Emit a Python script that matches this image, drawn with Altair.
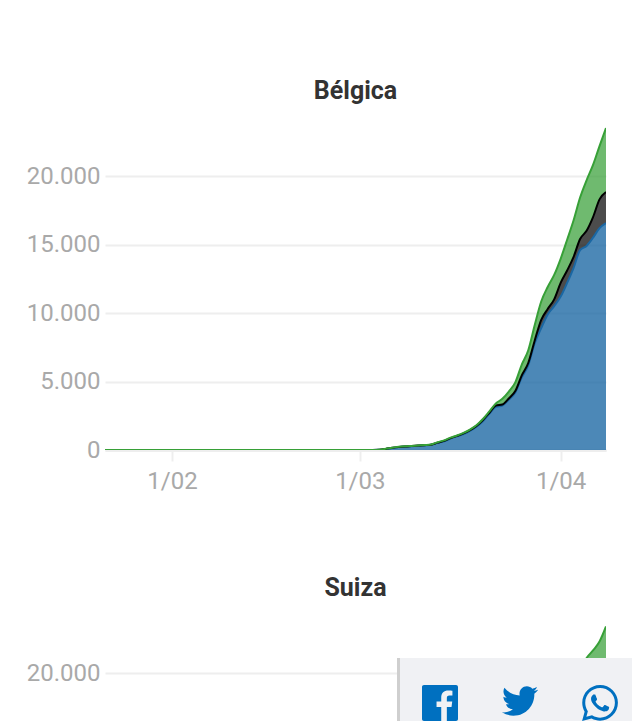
import altair as alt
import pandas as pd

early_dates = pd.date_range("2020-01-21", "2020-02-29", freq="D").strftime("%Y-%m-%d").tolist()
dates = pd.date_range("2020-03-01", "2020-04-08", freq="D").strftime("%Y-%m-%d").tolist()

green = [2, 3, 6, 25, 90, 170, 230, 270, 300, 330, 360, 400, 570, 700, 900, 1060, 1250, 1490, 1800, 2260,
         2820, 3400, 3740, 4270, 4940, 6240, 7280, 9130, 10840, 11900, 12780, 13960, 15350, 16770, 18430, 19690,
         20810, 22190, 23500]
black = [2, 3, 6, 20, 80, 160, 220, 260, 290, 320, 350, 390, 540, 670, 870, 1030, 1210, 1450, 1760, 2190,
         2720, 3250, 3320, 3760, 4300, 5450, 6350, 8000, 9500, 10300, 11000, 12200, 13100, 14100, 15400, 16000,
         17000, 18300, 18830]
blue = [2, 3, 5, 15, 70, 150, 210, 250, 280, 310, 340, 380, 520, 640, 840, 1000, 1170, 1400, 1700, 2100,
        2650, 3150, 3250, 3680, 4200, 5300, 6200, 7800, 8900, 9900, 10500, 11200, 12200, 13300, 14600, 14900,
        15500, 16200, 16570]

suiza_dates = ["2020-04-03", "2020-04-04", "2020-04-05", "2020-04-06", "2020-04-07", "2020-04-08"]
suiza_green = [19000, 20200, 21100, 21650, 22300, 23400]

df = pd.DataFrame({
    "date": early_dates + dates,
    "zero": [0] * (len(early_dates) + len(dates)),
    "blue": [0] * len(early_dates) + blue,
    "black": [0] * len(early_dates) + black,
    "green": [0] * len(early_dates) + green,
})
df_s = pd.DataFrame({"date": suiza_dates, "green": suiza_green})

X_DOMAIN = ["2020-01-21T16:00:00Z", "2020-04-08T00:00:00Z"]
GRID = "#eeeeee"
LABEL = "#a9a9a9"
FONT = "Roboto"
GREEN = "#37a037"
BLUE = "#1a67a3"
xscale = alt.Scale(type="utc", domain=X_DOMAIN)
label_expr = "replace(format(datum.value, ','), ',', '.')"


def xaxis():
    return alt.Axis(format="%-d/%m", tickCount={"interval": "month", "step": 1}, grid=False, title=None,
                    labelFont=FONT, labelFontSize=24, labelColor=LABEL, labelPadding=8, tickColor=GRID,
                    tickSize=11, tickWidth=2, domainColor=GRID, domainWidth=3, labelFlush=False)


def yaxis(values):
    return alt.Axis(values=values, labelExpr=label_expr, grid=True, gridColor=GRID, gridWidth=2, ticks=False,
                    domain=False, title=None, labelFont=FONT, labelFontSize=24, labelColor=LABEL,
                    labelPadding=5, minExtent=90, maxExtent=90)


def band(low, high, color, opacity):
    return alt.Chart(df).mark_area(color=color, opacity=opacity, interpolate="monotone", clip=True).encode(
        x=alt.X("date:T", scale=xscale, axis=xaxis()),
        y=alt.Y(f"{high}:Q", scale=alt.Scale(domain=[0, 23800]), axis=yaxis([0, 5000, 10000, 15000, 20000])),
        y2=alt.Y2(f"{low}:Q"),
    )


def line(field, color):
    return alt.Chart(df).mark_line(color=color, strokeWidth=2, interpolate="monotone", clip=True).encode(
        x=alt.X("date:T", scale=xscale),
        y=alt.Y(f"{field}:Q", scale=alt.Scale(domain=[0, 23800])),
    )


title_style = dict(font=FONT, fontSize=25, fontWeight="bold", color="#333333", anchor="middle", offset=20)

belgica = alt.layer(
    band("zero", "blue", BLUE, 0.78),
    band("blue", "black", "#000000", 0.7),
    band("black", "green", GREEN, 0.72),
    line("blue", BLUE),
    line("black", "#000000"),
    line("green", GREEN),
).properties(width=501, height=326, title=alt.Title("Bélgica", **title_style))

one = pd.DataFrame({"k": [0]})
PANEL_TOP = 37
FB = "M22.68 0H1.32C.59 0 0 .59 0 1.32v21.36C0 23.41.59 24 1.32 24h11.5v-9.3H9.69v-3.63h3.13V8.41c0-3.1 1.89-4.79 4.66-4.79 1.33 0 2.47.1 2.8.14v3.24h-1.92c-1.5 0-1.8.72-1.8 1.77v2.31h3.59l-.47 3.63h-3.12V24h6.12c.73 0 1.32-.59 1.32-1.32V1.32C24 .59 23.41 0 22.68 0z"
TW = "M23.954 4.569c-.885.389-1.83.654-2.825.775 1.014-.611 1.794-1.574 2.163-2.723-.951.555-2.005.959-3.127 1.184-.896-.959-2.173-1.559-3.591-1.559-2.717 0-4.92 2.203-4.92 4.917 0 .39.045.765.127 1.124C7.691 8.094 4.066 6.13 1.64 3.161c-.427.722-.666 1.561-.666 2.475 0 1.71.87 3.213 2.188 4.096-.807-.026-1.566-.248-2.228-.616v.061c0 2.385 1.693 4.374 3.946 4.827-.413.111-.849.171-1.296.171-.314 0-.615-.03-.916-.086.631 1.953 2.445 3.377 4.604 3.417-1.68 1.319-3.809 2.105-6.102 2.105-.39 0-.779-.023-1.17-.067 2.189 1.394 4.768 2.209 7.557 2.209 9.054 0 13.999-7.496 13.999-13.986 0-.209 0-.42-.015-.63.961-.689 1.8-1.56 2.46-2.548l-.047-.02z"
WA = "M17.472 14.382c-.297-.149-1.758-.867-2.03-.967-.273-.099-.471-.148-.67.15-.197.297-.767.966-.94 1.164-.173.199-.347.223-.644.075-.297-.15-1.255-.463-2.39-1.475-.883-.788-1.48-1.761-1.653-2.059-.173-.297-.018-.458.13-.606.134-.133.298-.347.446-.52.149-.174.198-.298.298-.497.099-.198.05-.371-.025-.52-.075-.149-.669-1.612-.916-2.207-.242-.579-.487-.5-.669-.51-.173-.008-.371-.01-.57-.01-.198 0-.52.074-.792.372-.272.297-1.04 1.016-1.04 2.479 0 1.462 1.065 2.875 1.213 3.074.149.198 2.096 3.2 5.077 4.487.709.306 1.262.489 1.694.625.712.227 1.36.195 1.871.118.571-.085 1.758-.719 2.006-1.413.248-.694.248-1.289.173-1.413-.074-.124-.272-.198-.57-.347m-5.421 7.403h-.004a9.87 9.87 0 01-5.031-1.378l-.361-.214-3.741.982.998-3.648-.235-.374a9.86 9.86 0 01-1.51-5.26c.001-5.45 4.436-9.884 9.888-9.884 2.64 0 5.122 1.03 6.988 2.898a9.825 9.825 0 012.893 6.994c-.003 5.45-4.437 9.884-9.885 9.884m8.413-18.297A11.815 11.815 0 0012.05 0C5.495 0 .16 5.335.157 11.892c0 2.096.547 4.142 1.588 5.945L.057 24l6.305-1.654a11.882 11.882 0 005.683 1.448h.005c6.554 0 11.89-5.335 11.893-11.893a11.821 11.821 0 00-3.48-8.413z"


def panel_rect(x0, x1, color):
    return alt.Chart(one).mark_rect(color=color).encode(
        x=alt.value(x0), x2=alt.value(x1), y=alt.value(PANEL_TOP), y2=alt.value(100))


def icon(path, x, y):
    return alt.Chart(one).mark_point(shape=path, size=9, filled=True, opacity=1, color="#0070c0").encode(
        x=alt.value(x), y=alt.value(y))


sy = alt.Scale(domain=[16500, 23800])
suiza_area = alt.Chart(df_s).mark_area(color=GREEN, opacity=0.72, interpolate="monotone", clip=True).encode(
    x=alt.X("date:T", scale=xscale, axis=None),
    y=alt.Y("green:Q", scale=sy, axis=yaxis([20000])),
)
suiza_line = alt.Chart(df_s).mark_line(color=GREEN, strokeWidth=2, interpolate="monotone", clip=True).encode(
    x=alt.X("date:T", scale=xscale, axis=None),
    y=alt.Y("green:Q", scale=sy),
)
suiza = alt.layer(
    suiza_area,
    suiza_line,
    panel_rect(292, 296, "#cfcfcf"),
    panel_rect(295, 527, "#f0f1f4"),
    icon(FB, 317, 64),
    icon(TW, 397, 62),
    icon(WA, 477, 64),
).properties(width=501, height=100, title=alt.Title("Suiza", **title_style))

chart = alt.vconcat(belgica, suiza, spacing=83).properties(
    padding={"left": 7, "top": 71, "right": 0, "bottom": 0}
).configure_view(stroke=None)

chart.save("out.html", embed_options={"renderer": "svg", "actions": False})
